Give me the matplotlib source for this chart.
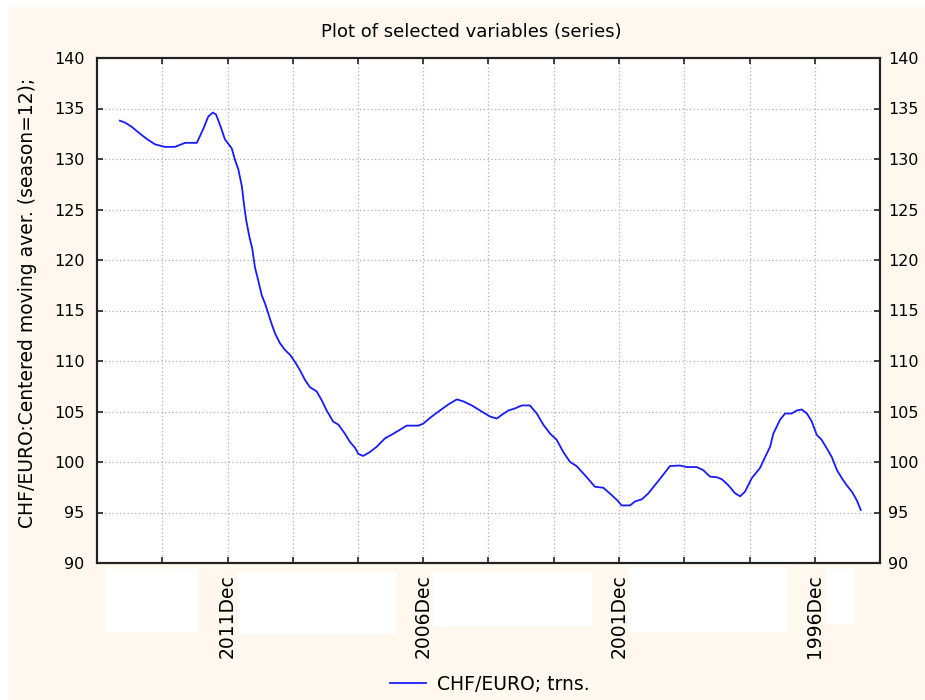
import matplotlib
matplotlib.use("Agg")
import matplotlib.pyplot as plt
from matplotlib.patches import Rectangle

# --------------------------------------------------
# Data (case number -> centered moving average)
# --------------------------------------------------

case_no = [
    7.0, 8.6, 10.6, 13.2, 15.2, 17.8, 20.8, 23.9, 27.0, 30.6,
    32.6, 34.1, 35.5, 36.5, 37.9, 39.2, 41.3, 42.3, 43.3, 44.4,
    45.1, 45.7, 46.7, 47.6, 48.4, 49.4, 50.5, 51.5, 52.5, 53.5,
    54.6, 56.1, 57.6, 59.2, 60.7, 62.2, 63.8, 65.3, 67.3, 68.9,
    70.4, 72.4, 74.0, 76.0, 77.5, 79.1, 80.1, 81.6, 83.7, 85.7,
    88.3, 90.3, 92.9, 94.9, 98.5, 100.0, 102.6, 105.1, 107.7, 110.3,
    112.3, 114.9, 117.9, 120.5, 122.5, 124.0, 126.1, 128.1, 130.2, 132.7,
    134.8, 136.8, 138.9, 140.9, 142.9, 145.0, 147.0, 150.1, 152.6, 155.2,
    157.5, 159.5, 160.8, 163.4, 164.9, 167.0, 169.0, 171.0, 173.1, 175.6,
    178.7, 180.7, 183.8, 185.8, 187.9, 189.9, 191.5, 193.5, 195.6, 197.1,
    198.6, 200.7, 203.2, 204.8, 206.3, 207.3, 209.4, 210.9, 212.9, 214.5,
    216.0, 217.6, 219.1, 220.6, 222.1, 223.7, 225.2, 226.8, 228.3, 229.8,
    231.4, 232.9, 234.1,
]

chf_euro = [
    133.8, 133.6, 133.2, 132.5, 132.0, 131.45, 131.2, 131.2, 131.6, 131.6,
    133.0, 134.2, 134.6, 134.4, 133.2, 131.95, 131.06, 129.9, 129.0, 127.3,
    125.4, 124.0, 122.3, 121.1, 119.3, 118.0, 116.5, 115.7, 114.7, 113.7,
    112.7, 111.75, 111.1, 110.6, 109.9, 109.1, 108.1, 107.4, 107.0, 106.1,
    105.1, 104.0, 103.7, 102.8, 102.0, 101.4, 100.8, 100.6, 101.0, 101.5,
    102.35, 102.7, 103.2, 103.6, 103.6, 103.8, 104.5, 105.1, 105.7, 106.2,
    106.0, 105.6, 105.0, 104.5, 104.3, 104.65, 105.1, 105.3, 105.6, 105.6,
    104.8, 103.7, 102.8, 102.2, 101.0, 100.0, 99.6, 98.5, 97.55, 97.45,
    96.8, 96.2, 95.7, 95.7, 96.1, 96.3, 96.9, 97.7, 98.55, 99.6,
    99.65, 99.5, 99.5, 99.2, 98.55, 98.5, 98.3, 97.7, 96.9, 96.6,
    97.05, 98.4, 99.4, 100.5, 101.5, 102.8, 104.2, 104.8, 104.8, 105.1,
    105.2, 104.8, 104.0, 102.7, 102.2, 101.35, 100.5, 99.2, 98.4, 97.7,
    97.05, 96.2, 95.25,
]

x_ticks = [20, 40, 60, 80, 100, 120, 140, 160, 180, 200, 220]
x_tick_labels = ["", "2011Dec", "", "", "2006Dec", "", "", "2001Dec", "", "", "1996Dec"]
y_ticks = [90, 95, 100, 105, 110, 115, 120, 125, 130, 135, 140]

# --------------------------------------------------
# Figure
# --------------------------------------------------

W, H = 925, 700
fig = plt.figure(figsize=(W / 100, H / 100), dpi=100, facecolor="white")

# cream background (small white margin top/left)
fig.patches.append(Rectangle((8 / W, 0), 1, 1 - 7 / H, transform=fig.transFigure,
                             facecolor="#fef8ee", edgecolor="none", zorder=-10))

# white blocks behind the date labels
for x0, x1, y0, y1 in [(105, 198, 569, 632), (238, 397, 572, 634), (433, 592, 572, 627),
                       (628, 787, 567, 632), (826, 855, 569, 624)]:
    fig.patches.append(Rectangle((x0 / W, 1 - y1 / H), (x1 - x0) / W, (y1 - y0) / H,
                                 transform=fig.transFigure, facecolor="white",
                                 edgecolor="none", zorder=-5))

ax = fig.add_axes([97 / W, 1 - 563 / H, (880 - 97) / W, (563 - 58) / H])
ax.set_facecolor("white")

line, = ax.plot(case_no, chf_euro, color="#1a1aff", linewidth=1.3, label="CHF/EURO; trns.")

ax.set_xlim(0, 240)
ax.set_ylim(90, 140)
ax.set_xticks(x_ticks)
ax.set_xticklabels(x_tick_labels, rotation=90, fontsize=13.5, va="top")
ax.set_yticks(y_ticks)
ax.set_yticklabels([str(v) for v in y_ticks], fontsize=11.5)

ax.grid(True, linestyle=(0, (1, 2)), color="#adadad", linewidth=0.9)

ax.tick_params(axis="both", direction="in", length=4, width=1.2, color="#222222",
               top=True, right=True)
ax.tick_params(axis="y", pad=9)
ax.tick_params(axis="x", pad=8)

# right-hand scale (same values)
ax_r = ax.twinx()
ax_r.set_ylim(ax.get_ylim())
ax_r.set_yticks(y_ticks)
ax_r.set_yticklabels([str(v) for v in y_ticks], fontsize=11.5)
ax_r.tick_params(axis="y", direction="in", length=4, width=1.2, color="#222222", pad=6)

for a in (ax, ax_r):
    for s in a.spines.values():
        s.set_linewidth(1.5)
        s.set_color("#222222")

ax.set_ylabel("CHF/EURO:Centered moving aver. (season=12);", fontsize=13.5)
ax.yaxis.set_label_coords(-0.077, 0.515)

fig.text(471 / W, 1 - 32 / H, "Plot of selected variables (series)",
         fontsize=13, ha="center", va="center")

fig.legend(handles=[line], loc="center", bbox_to_anchor=(490 / W, 1 - 684 / H),
           frameon=False, fontsize=13.5, handlelength=1.9, handletextpad=0.6)

plt.savefig("out.png", dpi=100, facecolor=fig.get_facecolor())
plt.close()
